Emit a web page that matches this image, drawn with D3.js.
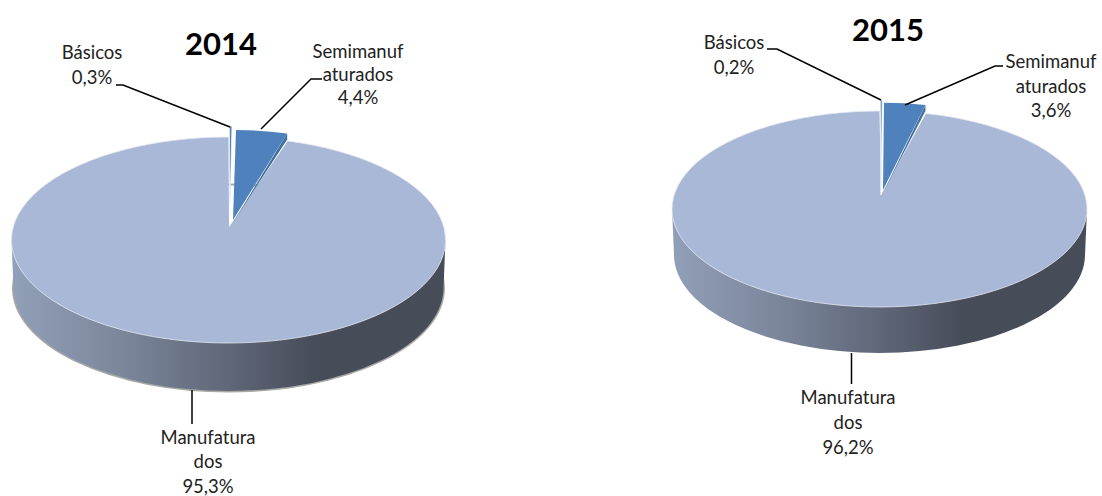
<!DOCTYPE html>
<html><head><meta charset="utf-8">
<script src="https://cdnjs.cloudflare.com/ajax/libs/d3/7.8.5/d3.min.js"></script>
<style>html,body{margin:0;background:#fff}svg{display:block}text{font-family:Lato,"Open Sans",sans-serif;fill:#222}</style>
</head><body>
<script>
const categories = ["Básicos", "Semimanufaturados", "Manufaturados"];
const values2014 = [0.3, 4.4, 95.3];
const values2015 = [0.2, 3.6, 96.2];
const labelText = { "Básicos": ["Básicos"], "Semimanufaturados": ["Semimanuf", "aturados"], "Manufaturados": ["Manufatura", "dos"] };

const W = 1102, H = 496;
const svg = d3.select("body").append("svg").attr("width", W).attr("height", H);
const defs = svg.append("defs");

const charts = [
  { year: "2014", values: values2014, cx: 228.5, cy: 240, rx: 217, ry: 103, depth: 48, apex: [229, 227],
    outline: true, titleXY: [221, 55],
    blue: { c: [236, 219], k: 0.864, apex: [233, 220] },
    thin: { top: [231, 126], apex: [229.5, 226], w: 1.6 },
    labels: [
      { x: 92, y: [59, 84], leader: [[116, 85], [123, 85], [230, 127]] },
      { x: 358, y: [58, 81, 104], leader: [[322, 79], [311, 79], [261, 129]] },
      { x: 208, y: [444, 468, 493], leader: [[192, 390], [192, 424]] }
    ] },
  { year: "2015", values: values2015, cx: 879.5, cy: 209, rx: 207.5, ry: 98, depth: 46, apex: [881, 195],
    outline: false, titleXY: [888, 41],
    blue: { c: [884, 190], k: 0.89, apex: [883, 190] },
    thin: { top: [881.5, 100], apex: [881, 195], w: 1.2 },
    labels: [
      { x: 734, y: [49, 74], leader: [[767, 49], [777, 49], [881, 100]] },
      { x: 1051, y: [68, 93, 117], leader: [[1003, 66], [995, 66], [905, 105]] },
      { x: 848, y: [404, 429, 454], leader: [[851.5, 353], [851.5, 384]] }
    ] }
];

const pie = d3.pie().sort(null).value(d => d);

charts.forEach((ch, idx) => {
  const g = svg.append("g");
  const id = "wall" + idx;
  const gr = defs.append("linearGradient").attr("id", id).attr("gradientUnits", "userSpaceOnUse")
    .attr("x1", ch.cx - ch.rx).attr("x2", ch.cx + ch.rx).attr("y1", 0).attr("y2", 0);
  [[0, "#919fb8"], [0.25, "#7c879c"], [0.5, "#5f6778"], [0.7, "#474c59"], [1, "#474c59"]]
    .forEach(s => gr.append("stop").attr("offset", s[0]).attr("stop-color", s[1]));

  const lead = ch.values[0] / 100 * 2 * Math.PI;
  const arcs = pie.startAngle(-lead).endAngle(2 * Math.PI - lead)(ch.values);
  const pt = (c, rx, ry, a) => [c[0] + rx * Math.sin(a), c[1] - ry * Math.cos(a)];

  // side wall
  const wr = ch.rx, bx = ch.rx - 2;
  const wall = `M${ch.cx - wr},${ch.cy}L${ch.cx - bx},${ch.cy + ch.depth}` +
    `A${bx},${ch.ry} 0 0 0 ${ch.cx + bx},${ch.cy + ch.depth}L${ch.cx + wr},${ch.cy}Z`;
  if (ch.outline) {
    g.append("ellipse").attr("cx", ch.cx).attr("cy", ch.cy + ch.depth).attr("rx", bx + 0.5).attr("ry", ch.ry + 0.5)
      .attr("fill", "none").attr("stroke", "#a8a8a4").attr("stroke-width", 2);
  }
  g.append("path").attr("d", wall).attr("fill", `url(#${id})`);

  // main slice top: the wedge closes against the thin slice, so its far edge uses the full sweep
  const m = arcs[2];
  const c = [ch.cx, ch.cy];
  const p0 = pt(c, ch.rx, ch.ry, m.startAngle), p1 = pt(c, ch.rx, ch.ry, m.endAngle + lead);
  g.append("path")
    .attr("d", `M${ch.apex}L${p0}A${ch.rx},${ch.ry} 0 1 1 ${p1}Z`)
    .attr("fill", "#a9b8d6");
  g.append("path")
    .attr("d", `M${p0}A${ch.rx},${ch.ry} 0 1 1 ${p1}`)
    .attr("fill", "none").attr("stroke", "#e4e9f2").attr("stroke-width", 0.8);

  // exploded semi-manufactured slice
  const s = arcs[1], b = ch.blue;
  const rr = ch.rx * b.k, rk = ch.ry * b.k;
  const s0 = pt(b.c, rr, rk, s.startAngle), s1 = pt(b.c, rr, rk, s.endAngle);
  g.append("path").attr("d", `M${b.apex[0] + 1},${b.apex[1] + 1}L${s1[0]},${s1[1] + 6}L${s1}Z`).attr("fill", "#41709f");
  g.append("path").attr("d", `M${b.apex}L${s0}A${rr},${rk} 0 0 1 ${s1}Z`).attr("fill", "#4f81bd");

  // thin basic slice
  const t = ch.thin;
  g.append("path").attr("d", `M${t.apex}L${t.top[0] - t.w},${t.top[1]}L${t.top[0] + t.w * 0.6},${t.top[1]}Z`)
    .attr("fill", "#4f81bd").attr("stroke", "#fff").attr("stroke-width", 0.7);

  // title
  g.append("text").attr("x", ch.titleXY[0]).attr("y", ch.titleXY[1]).attr("text-anchor", "middle")
    .attr("font-size", 31).attr("font-weight", 700).style("fill", "#000").text(ch.year);

  // labels and leaders
  categories.forEach((cat, i) => {
    const l = ch.labels[i];
    g.append("path").attr("d", d3.line()(l.leader)).attr("fill", "none").attr("stroke", "#000").attr("stroke-width", 1.5);
    const lines = labelText[cat].concat(String(ch.values[i]).replace(".", ",") + "%");
    lines.forEach((tx, j) => {
      g.append("text").attr("x", l.x).attr("y", l.y[j]).attr("text-anchor", "middle")
        .attr("font-size", 18.5).text(tx);
    });
  });
});
</script>
</body></html>
